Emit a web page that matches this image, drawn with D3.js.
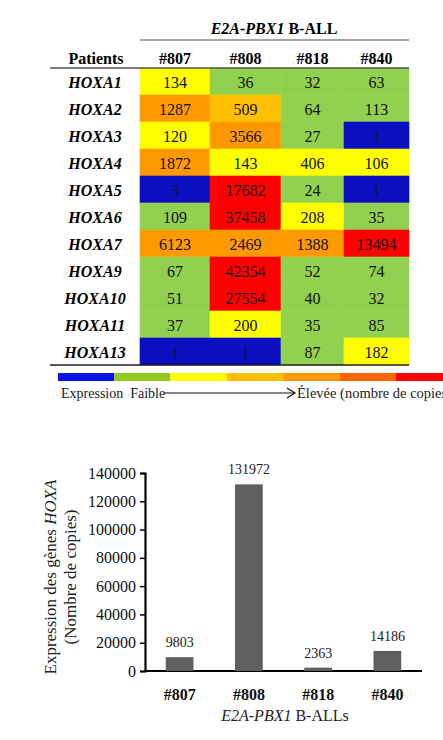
<!DOCTYPE html>
<html>
<head>
<meta charset="utf-8">
<script src="https://cdn.jsdelivr.net/npm/d3@7"></script>
<style>
  body { margin: 0; background: #fff; }
  svg text { font-family: "Liberation Serif", "Times New Roman", serif; }
</style>
</head>
<body>
<div id="chart"></div>
<script>
// heatmap data
var patients = ['#807', '#808', '#818', '#840']
var genes = ['HOXA1', 'HOXA2', 'HOXA3', 'HOXA4', 'HOXA5', 'HOXA6', 'HOXA7', 'HOXA9', 'HOXA10', 'HOXA11', 'HOXA13']
var copies = [
  [134, 36, 32, 63],
  [1287, 509, 64, 113],
  [120, 3566, 27, 1],
  [1872, 143, 406, 106],
  [3, 17682, 24, 1],
  [109, 37458, 208, 35],
  [6123, 2469, 1388, 13494],
  [67, 42354, 52, 74],
  [51, 27554, 40, 32],
  [37, 200, 35, 85],
  [1, 1, 87, 182]
]
// colour level of each cell (0 = blue ... 6 = red)
var levels = [
  [2, 1, 1, 1],
  [4, 3, 1, 1],
  [2, 4, 1, 0],
  [4, 2, 2, 2],
  [0, 6, 1, 0],
  [1, 6, 2, 1],
  [4, 4, 4, 6],
  [1, 6, 1, 1],
  [1, 6, 1, 1],
  [1, 2, 1, 1],
  [0, 0, 1, 2]
]
var cellColors = ['#0a0fbf', '#92d050', '#ffff00', '#ffc000', '#ff9900', '#ff6600', '#ff0000']
var legendColors = ['#0a14e6', '#96c81e', '#ffff00', '#ffc000', '#ff9900', '#ff6600', '#ff0000']

// bar chart data
var totals = [9803, 131972, 2363, 14186]
var yTicks = [0, 20000, 40000, 60000, 80000, 100000, 120000, 140000]

var w = 443, h = 740
var svg = d3.select('#chart').append('svg').attr('width', w).attr('height', h)

// ---- heatmap table ----
var xs = [140, 210, 281, 344, 409]  // uneven column edges in the original
var y = d3.scaleBand().domain(genes).range([68, 365])

svg.append('text').attr('x', 274).attr('y', 34).attr('text-anchor', 'middle')
  .style('font-size', '16px')
  .call(function (t) {
    t.append('tspan').style('font-style', 'italic').style('font-weight', 'bold').text('E2A-PBX1')
    t.append('tspan').style('font-weight', 'bold').text(' B-ALL')
  })
svg.append('line').attr('x1', 140).attr('x2', 409).attr('y1', 40).attr('y2', 40)
  .attr('stroke', '#888').attr('stroke-width', 1.5)

svg.append('text').attr('x', 96).attr('y', 64).attr('text-anchor', 'middle')
  .style('font-size', '16px').style('font-weight', 'bold').text('Patients')

patients.forEach(function (p, j) {
  svg.append('text').attr('x', (xs[j] + xs[j + 1]) / 2).attr('y', 64).attr('text-anchor', 'middle')
    .style('font-size', '16px').style('font-weight', 'bold').text(p)
})

var cells = []
genes.forEach(function (g, i) {
  patients.forEach(function (p, j) {
    cells.push({ gene: g, col: j, value: copies[i][j], level: levels[i][j] })
  })
})

svg.append('g').selectAll('rect').data(cells).enter().append('rect')
  .attr('x', function (d) { return xs[d.col] })
  .attr('y', function (d) { return y(d.gene) })
  .attr('width', function (d) { return xs[d.col + 1] - xs[d.col] })
  .attr('height', y.bandwidth())
  .attr('fill', function (d) { return cellColors[d.level] })
  .attr('stroke', function (d) { return d3.color(cellColors[d.level]).brighter(0.15) })
  .attr('stroke-width', 0.6)

svg.append('g').selectAll('text').data(cells).enter().append('text')
  .attr('x', function (d) { return (xs[d.col] + xs[d.col + 1]) / 2 })
  .attr('y', function (d) { return y(d.gene) + y.bandwidth() / 2 + 6 })
  .attr('text-anchor', 'middle')
  .style('font-size', '16px')
  .attr('fill', function (d) { return d.level == 0 ? '#111140' : '#111' })
  .text(function (d) { return d.value })

svg.append('g').selectAll('text').data(genes).enter().append('text')
  .attr('x', 95)
  .attr('y', function (d) { return y(d) + y.bandwidth() / 2 + 6 })
  .attr('text-anchor', 'middle')
  .style('font-size', '16px').style('font-weight', 'bold').style('font-style', 'italic')
  .text(function (d) { return d })

svg.append('line').attr('x1', 50).attr('x2', 409).attr('y1', 68).attr('y2', 68)
  .attr('stroke', '#555').attr('stroke-width', 1.5)
svg.append('line').attr('x1', 50).attr('x2', 409).attr('y1', 365).attr('y2', 365)
  .attr('stroke', '#222').attr('stroke-width', 1.5)

// colour legend
var lx = d3.scaleLinear().domain([0, 7]).range([58, 452])
svg.append('g').selectAll('rect').data(legendColors).enter().append('rect')
  .attr('x', function (d, i) { return lx(i) })
  .attr('y', 373)
  .attr('width', lx(1) - lx(0))
  .attr('height', 8)
  .attr('fill', function (d) { return d })

svg.append('text').attr('x', 61).attr('y', 398).style('font-size', '14px').style('fill', '#222')
  .text('Expression\u00a0\u00a0Faible')
svg.append('line').attr('x1', 164).attr('x2', 294).attr('y1', 393).attr('y2', 393)
  .attr('stroke', '#111').attr('stroke-width', 1.2)
svg.append('path').attr('d', 'M287,388 L295,393 L287,398').attr('fill', 'none')
  .attr('stroke', '#111').attr('stroke-width', 1.2)
svg.append('text').attr('x', 297).attr('y', 398).style('font-size', '14.5px').style('fill', '#222')
  .text('Élevée (nombre de copies)')

// ---- bar chart ----
var bx = d3.scaleBand().domain(patients).range([145, 422]).paddingInner(0.6).paddingOuter(0.3)
var by = d3.scaleLinear().domain([0, 140000]).range([671, 473])

var yAxis = svg.append('g').attr('transform', 'translate(145,0)')
  .call(d3.axisLeft(by).tickValues(yTicks).tickSize(5).tickSizeOuter(5).tickFormat(d3.format('d')))
yAxis.select('.domain').attr('stroke-width', 2.2)
yAxis.selectAll('.tick line').attr('stroke-width', 1.5)
yAxis.selectAll('text').style('font-size', '16px').style('font-family', '"Liberation Serif", serif')
  .attr('fill', '#111').attr('x', -9)

var xAxis = svg.append('g').attr('transform', 'translate(0,671)')
  .call(d3.axisBottom(bx).tickSize(0).tickPadding(18))
xAxis.select('.domain').attr('d', 'M145,0H422').attr('stroke-width', 2.2)
xAxis.selectAll('text').style('font-size', '16px').style('font-weight', 'bold')
  .style('font-family', '"Liberation Serif", serif').attr('fill', '#111')

svg.append('g').selectAll('rect').data(totals).enter().append('rect')
  .attr('x', function (d, i) { return bx(patients[i]) })
  .attr('y', function (d) { return by(d) })
  .attr('width', bx.bandwidth())
  .attr('height', function (d) { return 671 - by(d) })
  .attr('fill', '#5f5f5f')

svg.append('g').selectAll('text').data(totals).enter().append('text')
  .attr('x', function (d, i) { return bx(patients[i]) + bx.bandwidth() / 2 })
  .attr('y', function (d) { return by(d) - 10 })
  .attr('text-anchor', 'middle')
  .style('font-size', '14px').attr('fill', '#222')
  .text(function (d) { return d })

svg.append('text').attr('x', 285).attr('y', 721).attr('text-anchor', 'middle')
  .style('font-size', '16px').attr('fill', '#222')
  .call(function (t) {
    t.append('tspan').style('font-style', 'italic').text('E2A-PBX1')
    t.append('tspan').text(' B-ALLs')
  })

var yt = svg.append('text').attr('transform', 'translate(56,577) rotate(-90)')
  .attr('text-anchor', 'middle').style('font-size', '17px').attr('fill', '#222')
yt.append('tspan').attr('x', 0).attr('y', 0).text('Expression des gènes ')
yt.append('tspan').style('font-style', 'italic').text('HOXA')
svg.append('text').attr('transform', 'translate(76,577) rotate(-90)')
  .attr('text-anchor', 'middle').style('font-size', '17px').attr('fill', '#222')
  .text('(Nombre de copies)')
</script>
</body>
</html>
